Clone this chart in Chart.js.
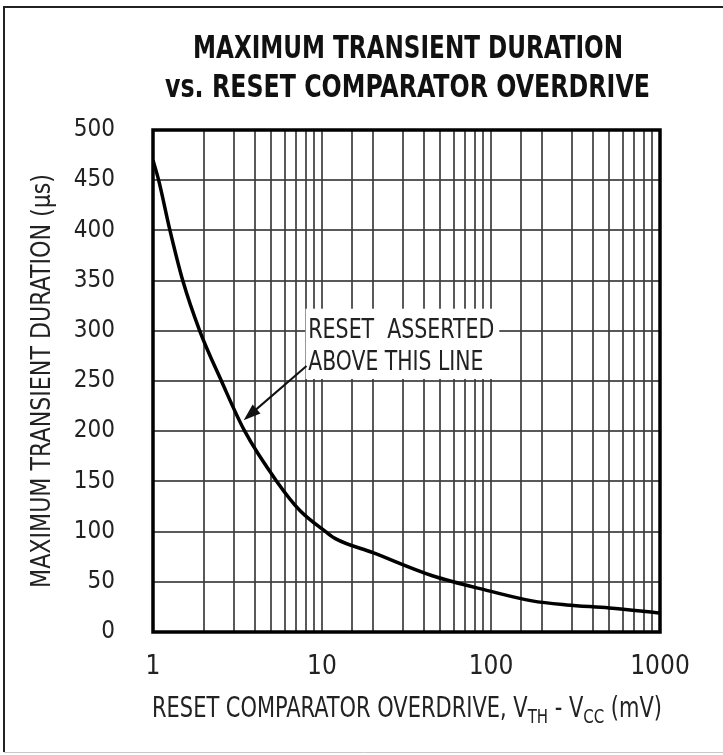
<!DOCTYPE html>
<html>
<head>
<meta charset="utf-8">
<title>Maximum transient duration vs. reset comparator overdrive</title>
<script src="https://cdn.jsdelivr.net/npm/chart.js@4.4.1/dist/chart.umd.min.js"></script>
<style>
  html, body { margin: 0; padding: 0; background: #fff; }
  canvas { display: block; }
</style>
</head>
<body>
<canvas id="myChart" width="723" height="755"></canvas>
<script>
'use strict';

// data (overdrive in mV, duration in us)
let overdrive = [1, 1.08, 1.26, 1.5, 1.89, 2.54, 3.49, 5.4, 7.4, 10.5, 12, 20, 45, 97, 175, 280, 500, 1000];
let duration = [470, 450, 400, 350, 300, 250, 200, 150, 121, 100, 93, 79, 56, 41, 31, 27, 24, 19];

let yTicks = [0, 50, 100, 150, 200, 250, 300, 350, 400, 450, 500];
let xLabels = [1, 10, 100, 1000];

let titleLines = ['MAXIMUM TRANSIENT DURATION', 'vs. RESET COMPARATOR OVERDRIVE'];
let yTitle = 'MAXIMUM TRANSIENT DURATION (\u00b5s)';
let noteLines = ['RESET  ASSERTED', 'ABOVE THIS LINE'];

const NARROW = "'Liberation Sans Narrow', 'DejaVu Sans Condensed', 'Liberation Sans', sans-serif";

// draw text squeezed/stretched to a given width
function fitText(ctx, text, x, y, width) {
  let w = ctx.measureText(text).width;
  ctx.save();
  ctx.translate(x, y);
  ctx.scale(width / w, 1);
  ctx.textAlign = 'left';
  ctx.fillText(text, 0, 0);
  ctx.restore();
}

let decorPlugin = {
  id: 'decor',
  beforeDraw(chart) {
    let ctx = chart.ctx;
    ctx.save();
    ctx.fillStyle = '#fff';
    ctx.fillRect(0, 0, chart.width, chart.height);
    ctx.restore();
  },
  afterDraw(chart) {
    let ctx = chart.ctx;
    let area = chart.chartArea;
    let xs = chart.scales.x;
    let ys = chart.scales.y;
    ctx.save();

    // outer frame
    ctx.strokeStyle = '#222';
    ctx.lineWidth = 2;
    ctx.beginPath();
    ctx.moveTo(4, 752);
    ctx.lineTo(4, 7);
    ctx.lineTo(723, 7);
    ctx.stroke();
    ctx.strokeStyle = '#c8c8c8';
    ctx.lineWidth = 1;
    ctx.beginPath();
    ctx.moveTo(4, 752.5);
    ctx.lineTo(723, 752.5);
    ctx.stroke();

    // title
    ctx.fillStyle = '#111';
    ctx.textBaseline = 'alphabetic';
    ctx.font = 'bold 32px ' + NARROW;
    fitText(ctx, titleLines[0], 193, 58, 430);
    fitText(ctx, titleLines[1], 165, 97, 485);

    // note box over the grid
    let bx = xs.getPixelForValue(8.0);
    let by = ys.getPixelForValue(322);
    let bw = xs.getPixelForValue(112) - bx;
    let bh = ys.getPixelForValue(252) - by;
    ctx.fillStyle = '#ffffff';
    ctx.fillRect(bx, by, bw, bh);
    ctx.fillStyle = '#222';
    ctx.font = '26px ' + NARROW;
    let tx = xs.getPixelForValue(8.3);
    fitText(ctx, noteLines[0], tx, ys.getPixelForValue(293), 186);
    fitText(ctx, noteLines[1], tx, ys.getPixelForValue(261), 175);

    // arrow from note to curve
    let ax0 = xs.getPixelForValue(8.1), ay0 = ys.getPixelForValue(265);
    let ax1 = xs.getPixelForValue(3.44), ay1 = ys.getPixelForValue(211);
    let ang = Math.atan2(ay1 - ay0, ax1 - ax0);
    ctx.strokeStyle = '#111';
    ctx.lineWidth = 2;
    ctx.beginPath();
    ctx.moveTo(ax0, ay0);
    ctx.lineTo(ax1 - 10 * Math.cos(ang), ay1 - 10 * Math.sin(ang));
    ctx.stroke();
    ctx.fillStyle = '#111';
    ctx.beginPath();
    ctx.moveTo(ax1, ay1);
    ctx.lineTo(ax1 - 17 * Math.cos(ang) + 6 * Math.sin(ang), ay1 - 17 * Math.sin(ang) - 6 * Math.cos(ang));
    ctx.lineTo(ax1 - 17 * Math.cos(ang) - 6 * Math.sin(ang), ay1 - 17 * Math.sin(ang) + 6 * Math.cos(ang));
    ctx.closePath();
    ctx.fill();

    // plot frame
    ctx.strokeStyle = '#000';
    ctx.lineWidth = 3.5;
    ctx.strokeRect(area.left, area.top, area.right - area.left, area.bottom - area.top);

    // y axis title (rotated)
    ctx.fillStyle = '#222';
    ctx.font = '27px ' + NARROW;
    ctx.save();
    ctx.translate(50, (area.top + area.bottom) / 2);
    ctx.rotate(-Math.PI / 2);
    fitText(ctx, yTitle, -207, 0, 414);
    ctx.restore();

    // x axis title with subscripts
    let parts = [
      ['RESET COMPARATOR OVERDRIVE, V', false],
      ['TH', true],
      [' - V', false],
      ['CC', true],
      [' (mV)', false]
    ];
    let total = 0;
    for (let i = 0; i < parts.length; i++) {
      ctx.font = (parts[i][1] ? '20px ' : '28px ') + NARROW;
      total += ctx.measureText(parts[i][0]).width;
    }
    let sx = 510 / total;
    ctx.save();
    ctx.translate(152, 717);
    ctx.scale(sx, 1);
    let cx = 0;
    for (let i = 0; i < parts.length; i++) {
      ctx.font = (parts[i][1] ? '20px ' : '28px ') + NARROW;
      ctx.fillText(parts[i][0], cx, parts[i][1] ? 6 : 0);
      cx += ctx.measureText(parts[i][0]).width;
    }
    ctx.restore();

    ctx.restore();
  }
};

let points = [];
for (let i = 0; i < overdrive.length; i++) {
  points.push({ x: overdrive[i], y: duration[i] });
}

let gridStyle = {
  color: 'rgba(60, 60, 60, 0.85)',
  lineWidth: 2,
  drawTicks: false
};

let ctx = document.getElementById('myChart').getContext('2d');
let myChart = new Chart(ctx, {
  type: 'line',
  data: {
    datasets: [{
      label: 'duration',
      data: points,
      borderColor: '#000',
      borderWidth: 3.5,
      pointRadius: 0,
      fill: false,
      cubicInterpolationMode: 'monotone'
    }]
  },
  options: {
    responsive: false,
    animation: false,
    layout: { padding: { top: 130, right: 63, bottom: 0, left: 0 } },
    plugins: {
      legend: { display: false },
      title: { display: false },
      tooltip: { enabled: false }
    },
    scales: {
      x: {
        type: 'logarithmic',
        min: 1,
        max: 1000,
        border: { display: false },
        grid: gridStyle,
        afterFit(scale) { scale.height = 755 - 632; },
        ticks: {
          autoSkip: false,
          maxRotation: 0,
          padding: 20,
          color: '#222',
          font: { family: NARROW, size: 26 },
          callback(value) {
            return xLabels.includes(value) ? String(value) : '';
          }
        }
      },
      y: {
        min: 0,
        max: 500,
        border: { display: false },
        grid: gridStyle,
        afterFit(scale) { scale.width = 153; },
        afterBuildTicks(scale) {
          scale.ticks = yTicks.map(v => ({ value: v }));
        },
        ticks: {
          padding: 38,
          color: '#222',
          font: { family: NARROW, size: 24 }
        }
      }
    }
  },
  plugins: [decorPlugin]
});
</script>
</body>
</html>
